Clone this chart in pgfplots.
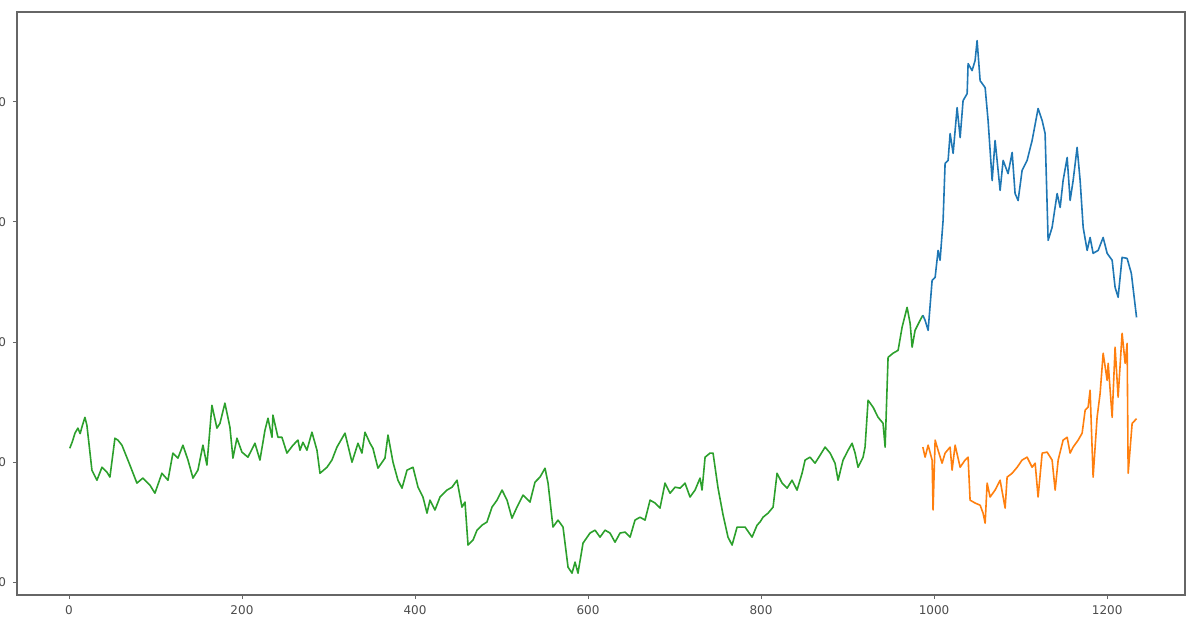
\documentclass[border=0pt]{standalone}
\usepackage{fontspec}
\setmainfont{DejaVu Sans}
\usepackage{pgfplots}
\pgfplotsset{compat=1.18}
\definecolor{mplblue}{HTML}{1F77B4}
\definecolor{mplorange}{HTML}{FF7F0E}
\definecolor{mplgreen}{HTML}{2CA02C}
\begin{document}
\begin{tikzpicture}
\begin{axis}[
  scale only axis, width=584pt, height=291.5pt,
  xmin=-60, xmax=1290, ymin=94.6, ymax=337.4,
  xtick={0,200,...,1200}, ytick={100,150,...,300},
  xtick pos=left, ytick pos=left,
  tick align=outside, major tick length=2pt,
  tick style={black!60, line width=0.4pt},
  axis line style={black!60, line width=0.6pt},
  ticklabel style={font=\fontsize{6}{7}\selectfont, text=black!70},
  /pgf/number format/assume math mode=true,
  /pgf/number format/set thousands separator={},
  scaled ticks=false,
  every axis plot/.append style={line width=0.8pt, line join=round},
]
% train (green)
\addplot[mplgreen] coordinates {
(1,155.7)(4,158.5)(7,162.0)(10.4,164.1)(13,161.8)(15,164.5)(18.5,168.6)(20.8,165.3)(26.6,146.6)(32.4,142.4)(38.2,147.8)(43.9,145.8)(47.4,143.7)(53.2,159.9)(56.6,159.1)(61.3,157.0)(70.5,148.7)(78.6,141.2)(85.5,143.3)(93.6,140.4)(99.4,137.0)(107.5,145.3)(114.5,142.4)(120.2,153.7)(126,151.6)(131.8,157.0)(137.6,150.8)(143.4,143.3)(149.1,146.6)(154.9,157.0)(159.5,148.7)(165.3,173.6)(171.1,164.1)(174.6,166.1)(180.3,174.5)(186.1,164.5)(189.6,151.6)(194.2,159.9)(200,154.1)(206.9,152.0)(215,157.8)(220.8,150.8)(226.6,163.2)(230.1,168.2)(234.7,160.3)(235.8,169.5)(241.6,160.3)(246.2,160.3)(252,153.7)(259,157.0)(264.7,159.1)(267.1,154.9)(270.5,158.2)(275.1,154.9)(280.9,162.4)(286.7,154.9)(290.2,145.3)(298.3,147.8)(304,150.8)(309.8,156.2)(319.1,162.0)(327.2,149.9)(334.1,157.8)(338.7,153.7)(342.2,162.4)(348,157.8)(351.4,155.7)(357.2,147.4)(365.3,151.6)(368.8,161.2)(374.6,149.9)(380.3,142.4)(385,139.1)(390.8,146.6)(397.7,147.8)(403.5,139.5)(409.2,135.4)(413.9,128.7)(417.3,134.1)(423.1,130.0)(428.9,135.4)(437,138.3)(442.8,139.5)(448.6,142.4)(454.3,131.2)(457.8,133.3)(461.3,115.4)(467.1,117.5)(471.7,121.6)(477.5,123.7)(483.2,125.0)(489,131.2)(494.8,134.1)(500.6,138.3)(506.4,134.1)(512.1,126.6)(517.9,131.2)(524.9,136.2)(532.9,133.3)(538.7,141.6)(544.5,143.7)(550.3,147.4)(553.8,141.2)(559.5,122.9)(565.3,125.8)(571.1,122.9)(576.9,106.2)(581.5,103.7)(585,108.3)(588.4,103.7)(594.2,116.2)(602.3,120.4)(608.1,121.6)(613.9,118.7)(619.7,121.6)(625.4,120.4)(631.2,116.6)(637,120.4)(642.8,120.8)(648.6,118.7)(654.3,125.8)(660.1,127.0)(665.9,125.8)(671.7,134.1)(677.5,132.9)(683.2,130.8)(689,141.2)(694.8,137.0)(700.6,139.5)(706.4,139.1)(712.1,141.2)(717.9,135.4)(723.7,138.3)(729.5,143.3)(731.8,138.3)(735.3,152.0)(741,153.7)(744.5,153.7)(750.3,139.1)(756.1,127.9)(761.8,118.7)(766.5,115.4)(772.3,122.9)(781.5,122.9)(789.6,118.7)(795.4,123.7)(798.8,125.0)(802.3,127.0)(808.1,128.7)(813.9,131.2)(818.5,145.3)(824.3,141.2)(830.1,139.1)(835.8,142.4)(841.6,138.3)(847.4,145.3)(850.9,150.8)(856.6,152.0)(862.4,149.5)(868.2,152.8)(874,156.2)(879.8,153.7)(885.5,149.5)(889,142.4)(894.8,150.8)(900.6,154.9)(905.2,157.8)(908.7,153.7)(912.1,147.8)(917.9,152.0)(920.2,156.2)(923.7,175.7)(929.5,172.8)(935.3,168.6)(941,166.1)(943.4,156.2)(946.8,193.6)(952.6,195.3)(958.4,196.5)(963,206.1)(968.8,214.4)(972.3,207.7)(974.6,197.8)(978,204.8)(983.8,209.0)(987,211.1)
};
% actual (blue)
\addplot[mplblue] coordinates {
(987,211.1)(989.6,209.0)(993.1,204.8)(997.7,225.6)(1001.2,226.9)(1004.6,238.1)(1006.9,234.0)(1010.4,250.6)(1012.7,274.3)(1016.2,275.6)(1018.5,286.8)(1022,278.5)(1026.6,297.6)(1030.1,285.1)(1033.5,300.5)(1038.2,303.4)(1039.3,315.9)(1043.9,313.0)(1047.4,317.2)(1049.7,325.5)(1053.2,308.8)(1059,305.9)(1062.4,292.2)(1067.1,267.2)(1070.5,283.9)(1076.3,263.1)(1079.8,275.6)(1085.5,270.1)(1090.2,278.9)(1093.6,261.8)(1097.1,258.9)(1101.7,271.4)(1107.5,275.6)(1113.3,283.9)(1120.2,297.2)(1124.9,292.2)(1128.3,286.8)(1131.8,242.3)(1136.4,247.7)(1142.2,261.8)(1145.7,256.0)(1149.1,267.2)(1153.8,276.8)(1157.2,258.9)(1160.7,267.2)(1165.3,281.0)(1168.8,267.2)(1172.3,247.7)(1176.9,238.1)(1180.3,243.5)(1183.8,236.9)(1189.6,238.1)(1195.4,243.5)(1200,236.9)(1205.8,234.0)(1209.2,222.7)(1212.7,218.6)(1217.3,235.2)(1223.1,234.8)(1228,228.5)(1234,210.2)
};
% predictions (orange)
\addplot[mplorange] coordinates {
(987,156.2)(989.6,152.0)(993.1,157.0)(997.7,150.8)(998.8,130.0)(1001.2,159.1)(1004.6,154.9)(1009.2,149.5)(1012.7,153.7)(1018.5,156.2)(1020.8,146.6)(1024.3,157.0)(1030.1,147.8)(1035.8,150.8)(1039.3,152.0)(1041.6,134.1)(1047.4,132.9)(1053.2,132.0)(1056.6,128.7)(1059,124.5)(1061.3,141.2)(1064.7,135.4)(1070.5,138.3)(1076.3,142.4)(1082.1,130.8)(1084.4,143.7)(1090.2,145.3)(1096,147.8)(1101.7,150.8)(1107.5,152.0)(1113.3,147.8)(1116.8,149.5)(1120.2,135.4)(1124.9,153.7)(1130.6,154.1)(1136.4,150.8)(1139.9,138.3)(1143.4,150.8)(1149.1,159.1)(1153.8,160.3)(1157.2,153.7)(1160.7,156.2)(1166.5,159.1)(1171.1,162.0)(1174.6,171.6)(1178,172.8)(1180.3,179.9)(1183.8,143.7)(1188.4,168.6)(1191.9,178.6)(1195.4,195.3)(1200,184.0)(1201.2,191.1)(1205.8,168.6)(1209.2,197.8)(1212.7,177.0)(1217.3,203.6)(1220.8,191.1)(1223.1,199.4)(1224.3,145.3)(1228.9,166.1)(1234,168.0)
};
\end{axis}
\pgfresetboundingbox
\useasboundingbox ([xshift=-8.5pt,yshift=-16.5pt]current axis.south west) rectangle ([xshift=7.5pt,yshift=6pt]current axis.north east);
\end{tikzpicture}
\end{document}
